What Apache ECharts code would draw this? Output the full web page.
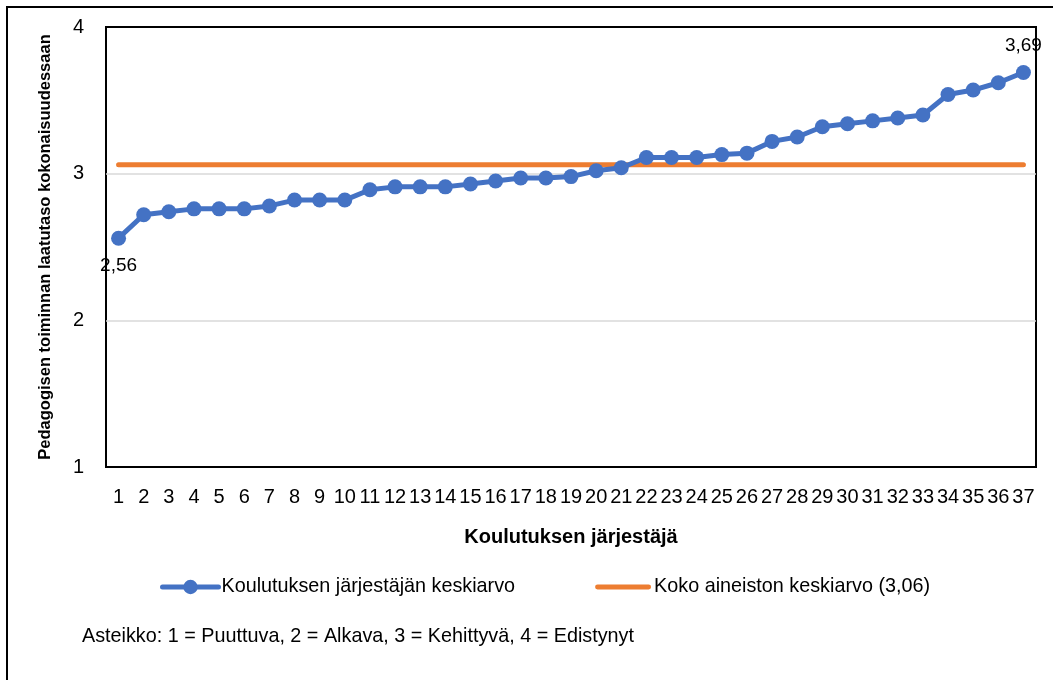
<!DOCTYPE html>
<html lang="fi" style="height: 100%">
<head>
  <meta charset="utf-8">
</head>
<body style="height: 100%; margin: 0">
  <div id="container" style="width: 1053px; height: 680px"></div>

  <script type="text/javascript" src="https://cdn.jsdelivr.net/npm/echarts@6/dist/echarts.min.js"></script>
  <script type="text/javascript">
    var categories = [];
    for (var i = 1; i <= 37; i++) categories.push(String(i));

    var providerMeans = [
      2.56, 2.72, 2.74, 2.76, 2.76, 2.76, 2.78, 2.82, 2.82, 2.82,
      2.89, 2.91, 2.91, 2.91, 2.93, 2.95, 2.97, 2.97, 2.98, 3.02,
      3.04, 3.11, 3.11, 3.11, 3.13, 3.14, 3.22, 3.25, 3.32, 3.34,
      3.36, 3.38, 3.40, 3.54, 3.57, 3.62, 3.69
    ];
    var overallMean = 3.06;
    var yTicks = [1, 2, 3, 4];

    var fontFamily = '"Liberation Sans", Arial, sans-serif';

    var dom = document.getElementById('container');
    var myChart = echarts.init(dom, null, { renderer: 'canvas' });

    // only first and last point get a value label
    var blueData = providerMeans.map(function (v, idx) {
      var item = { value: v };
      if (idx === 0) {
        item.label = { show: true, position: 'bottom', distance: 11 };
      } else if (idx === providerMeans.length - 1) {
        item.label = { show: true, position: 'top', distance: 10 };
      }
      return item;
    });

    var option = {
      animation: false,
      backgroundColor: '#fff',
      textStyle: { fontFamily: fontFamily },
      graphic: [
        {
          type: 'rect',
          shape: { x: 7, y: 7, width: 1100, height: 700 },
          style: { fill: 'none', stroke: '#000', lineWidth: 2 },
          silent: true
        },
        {
          type: 'text',
          left: 82,
          top: 627,
          style: {
            text: 'Asteikko: 1 = Puuttuva, 2 = Alkava, 3 = Kehittyvä, 4 = Edistynyt',
            fontSize: 19.8,
            fontFamily: fontFamily,
            fill: '#000'
          }
        }
      ],
      grid: {
        left: 106,
        right: 17,
        top: 27,
        bottom: 213,
        show: true,
        borderColor: '#000',
        borderWidth: 2,
        containLabel: false
      },
      legend: {
        top: 577,
        left: 160,
        padding: 0,
        itemGap: 80,
        itemWidth: 56,
        itemHeight: 18,
        textStyle: { fontSize: 19.8, color: '#000', fontFamily: fontFamily, padding: [0, 0, 0, -2] },
        data: [
          {
            name: 'Koulutuksen järjestäjän keskiarvo',
            lineStyle: { width: 5, cap: 'round' }
          },
          {
            name: 'Koko aineiston keskiarvo (3,06)',
            icon: 'path://M2,0 L54,0 A2.5,2.5 0 0 1 54,5 L2,5 A2.5,2.5 0 0 1 2,0 Z'
          }
        ]
      },
      xAxis: {
        type: 'category',
        data: categories,
        boundaryGap: true,
        name: 'Koulutuksen järjestäjä',
        nameLocation: 'middle',
        nameGap: 60,
        nameTextStyle: { fontSize: 20, fontWeight: 'bold', color: '#000' },
        axisLine: { show: false },
        axisTick: { show: false },
        axisLabel: { interval: 0, fontSize: 20, color: '#000', margin: 20 }
      },
      yAxis: {
        type: 'value',
        min: 1,
        max: 4,
        interval: 1,
        name: 'Pedagogisen toiminnan laatutaso kokonaisuudessaan',
        nameLocation: 'middle',
        nameGap: 52,
        nameTextStyle: { fontSize: 16.5, fontWeight: 'bold', color: '#000' },
        axisLine: { show: false },
        axisTick: { show: false },
        axisLabel: {
          fontSize: 20,
          color: '#000',
          margin: 22,
          formatter: function (v) { return yTicks.indexOf(v) >= 0 ? String(v) : ''; }
        },
        splitLine: {
          showMinLine: false,
          showMaxLine: false,
          lineStyle: { color: '#d9d9d9', width: 1.5 }
        }
      },
      series: [
        {
          name: 'Koko aineiston keskiarvo (3,06)',
          type: 'line',
          data: categories.map(function () { return overallMean; }),
          symbol: 'none',
          z: 2,
          lineStyle: { color: '#ED7D31', width: 5, cap: 'round' },
          itemStyle: { color: '#ED7D31' }
        },
        {
          name: 'Koulutuksen järjestäjän keskiarvo',
          type: 'line',
          data: blueData,
          symbol: 'circle',
          symbolSize: 15,
          z: 3,
          lineStyle: { color: '#4472C4', width: 5 },
          itemStyle: { color: '#4472C4' },
          label: {
            show: false,
            fontSize: 19,
            color: '#000',
            formatter: function (p) { return p.value.toFixed(2).replace('.', ','); }
          }
        }
      ]
    };

    myChart.setOption(option);
    window.addEventListener('resize', myChart.resize);
  </script>
</body>
</html>
